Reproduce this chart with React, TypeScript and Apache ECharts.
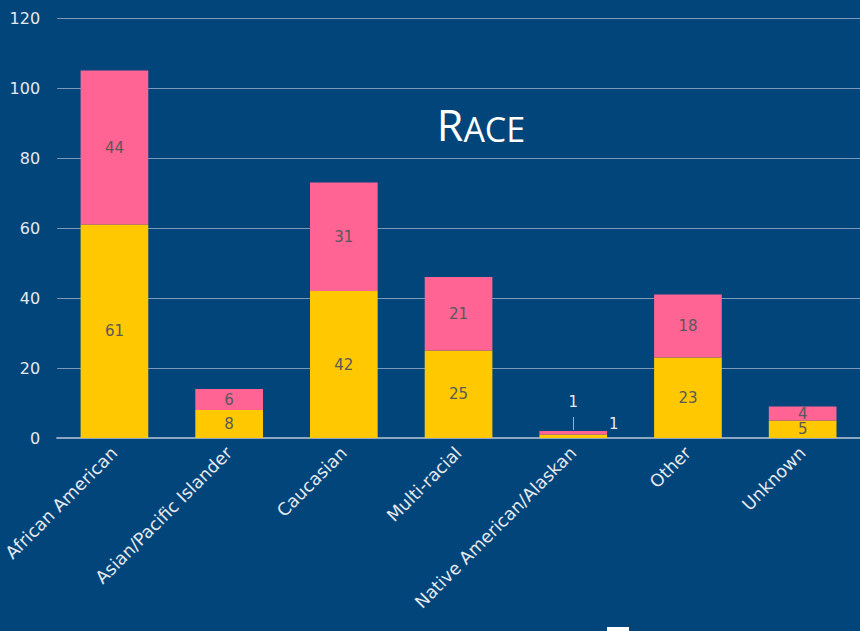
import React, { useEffect, useRef } from "react";
import * as echarts from "echarts";

const categories = [
  "African American",
  "Asian/Pacific Islander",
  "Caucasian",
  "Multi-racial",
  "Native American/Alaskan",
  "Other",
  "Unknown",
];
const yellowValues = [61, 8, 42, 25, 1, 23, 5];
const pinkValues = [44, 6, 31, 21, 1, 18, 4];
const yTicks = { min: 0, max: 120, interval: 20 };

export default function App() {
  const ref = useRef<HTMLDivElement>(null);
  useEffect(() => {
    if (!ref.current) return;
    const chart = echarts.init(ref.current, undefined, { renderer: "svg" });
    const font = "'DejaVu Sans', sans-serif";
    const titleFont = "'Open Sans', sans-serif";
    chart.setOption({
      animation: false,
      backgroundColor: "#01457A",
      grid: { left: 57, right: 0, top: 18, bottom: 193 },
      title: {
        text: "{a|R}{b|ACE}",
        left: 476,
        top: 98,
        textAlign: "center",
        textStyle: {
          rich: {
            a: { fontSize: 43, color: "#ffffff", fontFamily: titleFont, fontWeight: "normal", verticalAlign: "bottom" },
            b: { fontSize: 34, color: "#ffffff", fontFamily: titleFont, fontWeight: "normal", verticalAlign: "bottom" },
          },
        },
      },
      xAxis: {
        type: "category",
        data: categories,
        axisLine: { lineStyle: { color: "#8CA6C2", width: 2 } },
        axisTick: { show: false },
        axisLabel: {
          rotate: 45,
          interval: 0,
          color: "#E6E9EF",
          fontSize: 17.5,
          fontFamily: font,
          margin: 12,
        },
      },
      yAxis: {
        type: "value",
        min: yTicks.min,
        max: yTicks.max,
        interval: yTicks.interval,
        axisLine: { show: false },
        axisTick: { show: false },
        splitLine: { lineStyle: { color: "#7D98B8", width: 1 } },
        axisLabel: { color: "#E6E9EF", fontSize: 16, fontFamily: font, margin: 17 },
      },
      series: [
        {
          type: "bar",
          stack: "race",
          data: yellowValues.map((v, i) =>
            i === 4
              ? { value: v, label: { position: "right", distance: 2, offset: [0, -12], color: "#E6E9EF" } }
              : v
          ),
          barWidth: "59%",
          itemStyle: { color: "#FFC800" },
          label: { show: true, position: "inside", color: "#595959", fontSize: 15, fontFamily: font },
        },
        {
          type: "bar",
          stack: "race",
          data: pinkValues.map((v, i) =>
            i === 4
              ? { value: v, label: { position: "top", distance: 22, color: "#E6E9EF" } }
              : v
          ),
          barWidth: "59%",
          itemStyle: { color: "#FF6495" },
          label: { show: true, position: "inside", color: "#595959", fontSize: 15, fontFamily: font },
          markLine: {
            silent: true,
            symbol: "none",
            label: { show: false },
            lineStyle: { color: "#9AB0C8", width: 1, type: "solid" },
            data: [
              [
                { coord: [categories[4], 2.3] },
                { coord: [categories[4], 6.0] },
              ],
            ],
          },
        },
      ],
      graphic: [
        { type: "rect", shape: { x: 607, y: 627, width: 22, height: 4 }, style: { fill: "#ffffff" } },
      ],
    });
    return () => chart.dispose();
  }, []);
  return (
    <div
      ref={ref}
      style={{ position: "absolute", left: 0, top: 0, width: 860, height: 631 }}
    />
  );
}
